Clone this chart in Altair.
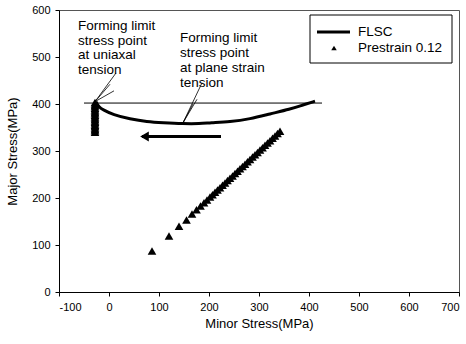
import altair as alt
import pandas as pd

# FLSC curve (minor stress, major stress)
flsc_x = [-26, -20, -12, 8, 42, 76, 108, 148, 182, 202, 242, 282, 322, 362, 388, 412]
flsc_y = [405, 393, 388, 377, 368, 362, 360, 358, 358, 360, 362, 368, 379, 389, 398, 406]

# thin horizontal reference line
ref_x = [-50, 426]
ref_y = [402, 402]

# Prestrain 0.12 points, equibiaxial branch
pre_x = [86, 120, 140, 155, 166, 175, 183, 190, 196, 202, 207, 212, 217, 222, 227,
         232, 237, 242, 247, 252, 257, 262, 267, 272, 277, 282, 287, 292, 297, 302,
         307, 312, 317, 322, 327, 332, 337, 342]
pre_y = [87, 119, 140, 153, 166, 175, 183, 190, 196, 202, 207, 212, 217, 222, 227,
         232, 237, 242, 247, 252, 257, 262, 267, 272, 277, 282, 287, 292, 297, 302,
         307, 312, 317, 322, 327, 332, 337, 342]
# Prestrain 0.12 points, uniaxial branch
uni_x = [-28] * 22
uni_y = [340, 343, 346, 349, 352, 355, 358, 361, 364, 367, 370, 373, 376, 379, 382,
         385, 388, 391, 394, 397, 400, 403]

# direction arrow
arrow_x = [66, 224]
arrow_y = [331, 331]

# annotation texts
ann1_lines = ["Forming limit", "stress point", "at uniaxal", "tension"]
ann1_x = [-62, -62, -62, -62]
ann1_y = [567, 535, 504, 472]
ann2_lines = ["Forming limit", "stress point", "at plane strain", "tension"]
ann2_x = [142, 142, 142, 142]
ann2_y = [540, 508, 476, 444]

# pointer lines (from, to)
ptr_x1 = [-28, -28, -28, 148, 148, 148]
ptr_y1 = [405, 405, 405, 360, 360, 360]
ptr_x2 = [14, 2, 10, 186, 176, 168]
ptr_y2 = [466, 442, 428, 445, 410, 400]

X = alt.X("x:Q", scale=alt.Scale(domain=[-100, 700], nice=False),
          axis=alt.Axis(values=[-100, 0, 100, 200, 300, 400, 500, 600, 700],
                        labelExpr="'' + datum.value",
                        title="Minor Stress(MPa)", grid=False, tickSize=4,
                        labelPadding=5, labelFontSize=11, titleFontSize=13,
                        titleY=31, titleBaseline="middle", domainColor="black",
                        tickColor="black", labelColor="black", titleColor="black",
                        titleFontWeight="normal"))
Y = alt.Y("y:Q", scale=alt.Scale(domain=[0, 600], nice=False),
          axis=alt.Axis(values=[0, 100, 200, 300, 400, 500, 600],
                        title="Major Stress(MPa)", grid=False, tickSize=4,
                        labelPadding=5, labelFontSize=11, titleFontSize=13,
                        titleX=-47, titleY=141, titleBaseline="middle",
                        titleAlign="center", domainColor="black",
                        tickColor="black", labelColor="black", titleColor="black",
                        titleFontWeight="normal"))

flsc_df = pd.DataFrame({"x": flsc_x, "y": flsc_y})
ref_df = pd.DataFrame({"x": ref_x, "y": ref_y})
pre_df = pd.DataFrame({"x": pre_x + uni_x, "y": pre_y + uni_y})
arrow_df = pd.DataFrame({"x": [arrow_x[0]], "x2": [arrow_x[1]], "y": [arrow_y[0]]})
head_df = pd.DataFrame({"x": [arrow_x[0] + 5], "y": [arrow_y[0]]})
ann_df = pd.DataFrame({"x": ann1_x + ann2_x, "y": ann1_y + ann2_y,
                       "t": ann1_lines + ann2_lines})
ptr_df = pd.DataFrame({"x": ptr_x1, "y": ptr_y1, "x2": ptr_x2, "y2": ptr_y2})

ref = alt.Chart(ref_df).mark_line(color="black", strokeWidth=1).encode(x=X, y=Y)
flsc = alt.Chart(flsc_df).mark_line(color="black", strokeWidth=3, interpolate="basis").encode(x=X, y=Y)
pre = alt.Chart(pre_df).mark_point(shape="triangle-up", filled=True, color="black",
                                   size=75, opacity=1).encode(x=X, y=Y)
arrow = alt.Chart(arrow_df).mark_rule(color="black", strokeWidth=3).encode(
    x=X, x2="x2:Q", y=Y)
head = alt.Chart(head_df).mark_point(shape="triangle-left", filled=True, color="black",
                                     size=100, opacity=1).encode(x=X, y=Y)
ptr = alt.Chart(ptr_df).mark_rule(color="black", strokeWidth=0.8).encode(
    x=X, y=Y, x2="x2:Q", y2="y2:Q")
ann = alt.Chart(ann_df).mark_text(align="left", baseline="middle", fontSize=13.5,
                                  font="Liberation Sans", color="black").encode(
    x=X, y=Y, text="t:N")

# legend box
leg_df = pd.DataFrame({"a": [0]})
leg_box = alt.Chart(leg_df).mark_rect(fill="white", stroke="black", strokeWidth=1).encode(
    x=alt.value(251), x2=alt.value(393), y=alt.value(5), y2=alt.value(53))
leg_line = alt.Chart(leg_df).mark_rule(color="black", strokeWidth=3).encode(
    x=alt.value(258), x2=alt.value(291), y=alt.value(22))
leg_tri = alt.Chart(leg_df).mark_point(shape="triangle-up", filled=True, color="black",
                                       size=30, opacity=1).encode(
    x=alt.value(275), y=alt.value(38))
leg_t1 = alt.Chart(leg_df).mark_text(align="left", baseline="middle", fontSize=13.5,
                                     font="Liberation Sans", color="black", text="FLSC").encode(
    x=alt.value(299), y=alt.value(22))
leg_t2 = alt.Chart(leg_df).mark_text(align="left", baseline="middle", fontSize=13.5,
                                     font="Liberation Sans", color="black",
                                     text="Prestrain 0.12").encode(
    x=alt.value(299), y=alt.value(38))

chart = alt.layer(ref, flsc, pre, arrow, head, ptr, ann,
                  leg_box, leg_line, leg_tri, leg_t1, leg_t2).properties(
    width=400, height=282,
    padding={"left": 59, "top": 10, "right": 7, "bottom": 52},
    autosize=alt.AutoSizeParams(type="none"),
    background="white",
).configure_view(stroke="#555", strokeWidth=1).configure_axis(
    labelFont="Liberation Sans", titleFont="Liberation Sans")

chart.save("out.html", embed_options={"renderer": "svg", "actions": False})
